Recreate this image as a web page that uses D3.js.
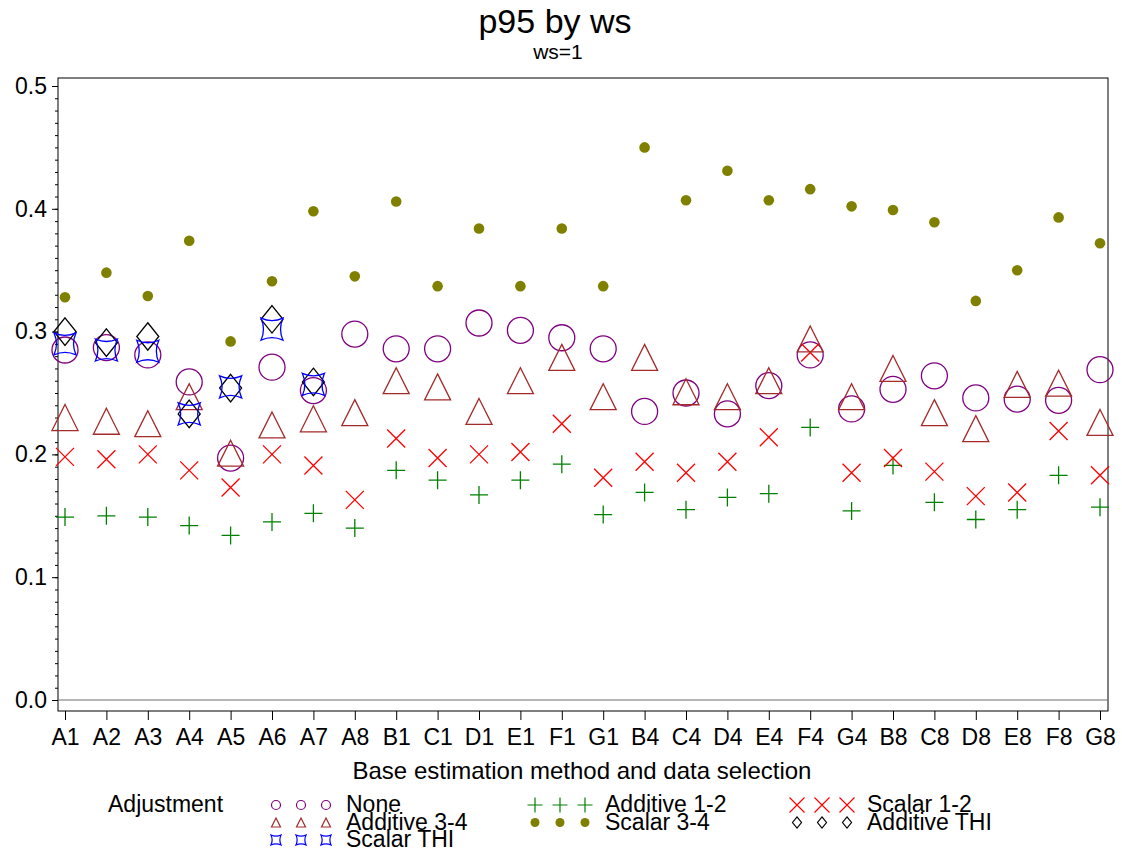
<!DOCTYPE html>
<html>
<head>
<meta charset="utf-8">
<script src="https://cdn.jsdelivr.net/npm/d3@7"></script>
<style>
	body { margin: 0; background: #fff; }
	text { font-family: "Liberation Sans", Arial, sans-serif; fill: #000; }
</style>
</head>
<body>
<svg id="chart" width="1122" height="854"></svg>
<script>
/*=================
=== The data
=================*/
var categories = ['A1', 'A2', 'A3', 'A4', 'A5', 'A6', 'A7', 'A8', 'B1', 'C1', 'D1', 'E1', 'F1', 'G1',
	'B4', 'C4', 'D4', 'E4', 'F4', 'G4', 'B8', 'C8', 'D8', 'E8', 'F8', 'G8'];
var thiCategories = ['A1', 'A2', 'A3', 'A4', 'A5', 'A6', 'A7'];

var noneVals = [0.285, 0.287, 0.281, 0.259, 0.197, 0.271, 0.252, 0.298, 0.286, 0.286, 0.307, 0.301, 0.295,
	0.286, 0.235, 0.250, 0.233, 0.256, 0.281, 0.237, 0.253, 0.264, 0.246, 0.245, 0.244, 0.269];
var add12Vals = [0.149, 0.150, 0.149, 0.142, 0.134, 0.145, 0.152, 0.140, 0.187, 0.179, 0.167, 0.179, 0.192,
	0.151, 0.169, 0.155, 0.165, 0.168, 0.222, 0.154, 0.191, 0.161, 0.147, 0.155, 0.183, 0.157];
var scal12Vals = [0.198, 0.196, 0.200, 0.187, 0.173, 0.200, 0.191, 0.163, 0.213, 0.197, 0.200, 0.202, 0.225,
	0.181, 0.194, 0.185, 0.194, 0.214, 0.283, 0.185, 0.197, 0.186, 0.166, 0.169, 0.219, 0.183];
var add34Vals = [0.230, 0.227, 0.225, 0.247, 0.201, 0.224, 0.229, 0.234, 0.260, 0.255, 0.235, 0.260, 0.279,
	0.247, 0.279, 0.251, 0.247, 0.260, 0.294, 0.247, 0.270, 0.234, 0.221, 0.257, 0.258, 0.226];
var scal34Vals = [0.328, 0.348, 0.329, 0.374, 0.292, 0.341, 0.398, 0.345, 0.406, 0.337, 0.384, 0.337, 0.384,
	0.337, 0.450, 0.407, 0.431, 0.407, 0.416, 0.402, 0.399, 0.389, 0.325, 0.350, 0.393, 0.372];
var addThiVals = [0.300, 0.291, 0.296, 0.233, 0.254, 0.310, 0.259];
var scalThiVals = [0.290, 0.285, 0.284, 0.233, 0.255, 0.302, 0.257];

var yTicks = [0, 0.1, 0.2, 0.3, 0.4, 0.5];

/*=================
=== Marker shapes
=================*/
function circleShape(r) { return 'M' + r + ',0A' + r + ',' + r + ' 0 1 1 ' + (-r) + ',0A' + r + ',' + r + ' 0 1 1 ' + r + ',0Z'; }
function triangleShape(s) { return 'M0,' + (-s) + 'L' + s + ',' + s + 'L' + (-s) + ',' + s + 'Z'; }
function plusShape(s) { return 'M' + (-s) + ',0H' + s + 'M0,' + (-s) + 'V' + s; }
function crossShape(s) { return 'M' + (-s) + ',' + (-s) + 'L' + s + ',' + s + 'M' + s + ',' + (-s) + 'L' + (-s) + ',' + s; }
function diamondShape(s) { var h = s * 1.25; return 'M0,' + (-h) + 'L' + s + ',0L0,' + h + 'L' + (-s) + ',0Z'; }
function starSquareShape(s) {
	var c = s * 0.55; // how far the sides bow in
	return 'M' + (-s) + ',' + (-s) + 'Q0,' + (-c) + ' ' + s + ',' + (-s) +
		'Q' + c + ',0 ' + s + ',' + s +
		'Q0,' + c + ' ' + (-s) + ',' + s +
		'Q' + (-c) + ',0 ' + (-s) + ',' + (-s) + 'Z';
}

// legend order (row by row), also the draw order
var series = [
	{ name: 'None', cats: categories, vals: noneVals, color: '#800080', fill: 'none', shape: circleShape, size: 13, lsize: 4.5 },
	{ name: 'Additive 1-2', cats: categories, vals: add12Vals, color: '#008000', fill: 'none', shape: plusShape, size: 9, lsize: 7.5 },
	{ name: 'Scalar 1-2', cats: categories, vals: scal12Vals, color: '#ff0000', fill: 'none', shape: crossShape, size: 9, lsize: 7.5 },
	{ name: 'Additive 3-4', cats: categories, vals: add34Vals, color: '#a52a2a', fill: 'none', shape: triangleShape, size: 13, lsize: 4.5 },
	{ name: 'Scalar 3-4', cats: categories, vals: scal34Vals, color: '#808000', fill: '#808000', shape: circleShape, size: 5.3, lsize: 4.5 },
	{ name: 'Additive THI', cats: thiCategories, vals: addThiVals, color: '#000000', fill: 'none', shape: diamondShape, size: 11, lsize: 4.5 },
	{ name: 'Scalar THI', cats: thiCategories, vals: scalThiVals, color: '#0000ff', fill: 'none', shape: starSquareShape, size: 11, lsize: 5 }
];

/*=================
=== The vars
=================*/
var frameLeft = 58, frameRight = 1108, frameTop = 78, frameBottom = 711;

var svg = d3.select('#chart');

var x = d3.scalePoint().domain(categories).range([65, 1100]);
var y = d3.scaleLinear().domain([0, 0.5]).range([700, 86]);

// titles
svg.append('text')
	.attr('x', 555).attr('y', 33)
	.attr('text-anchor', 'middle')
	.style('font-size', '34px')
	.text('p95 by ws');
svg.append('text')
	.attr('x', 558).attr('y', 59)
	.attr('text-anchor', 'middle')
	.style('font-size', '21px')
	.text('ws=1');

// frame
svg.append('rect')
	.attr('x', frameLeft).attr('y', frameTop)
	.attr('width', frameRight - frameLeft)
	.attr('height', frameBottom - frameTop)
	.attr('fill', 'none')
	.attr('stroke', '#000')
	.attr('stroke-width', 1);

// reference line at zero
svg.append('line')
	.attr('x1', frameLeft).attr('x2', frameRight)
	.attr('y1', y(0)).attr('y2', y(0))
	.attr('stroke', '#6e6e6e')
	.attr('stroke-width', 1.2);

// y axis, minor then major
var yMinor = svg.append('g')
	.attr('transform', 'translate(' + frameLeft + ',0)')
	.call(d3.axisLeft(y).tickValues(d3.range(0, 51).map(function (i) { return i / 100; })).tickSize(3).tickFormat(''));
yMinor.select('.domain').remove();

var yAxis = svg.append('g')
	.attr('transform', 'translate(' + frameLeft + ',0)')
	.call(d3.axisLeft(y).tickValues(yTicks).tickSize(6).tickPadding(5).tickFormat(d3.format('.1f')));
yAxis.select('.domain').remove();
yAxis.selectAll('text').style('font-size', '23px').attr('font-family', null);

// x axis
var xAxis = svg.append('g')
	.attr('transform', 'translate(0,' + frameBottom + ')')
	.call(d3.axisBottom(x).tickSize(9).tickPadding(9));
xAxis.select('.domain').remove();
xAxis.selectAll('text').style('font-size', '23px').attr('font-family', null);

svg.append('text')
	.attr('x', 582).attr('y', 779)
	.attr('text-anchor', 'middle')
	.style('font-size', '24px')
	.text('Base estimation method and data selection');

// markers
series.forEach(function (s) {
	var pts = s.cats.map(function (c, i) { return { cat: c, val: s.vals[i] }; });
	svg.append('g')
		.attr('class', 'series')
		.selectAll('path')
		.data(pts)
		.enter()
		.append('path')
		.attr('transform', function (d) { return 'translate(' + x(d.cat) + ',' + y(d.val) + ')'; })
		.attr('d', s.shape(s.size))
		.attr('fill', s.fill)
		.attr('stroke', s.color)
		.attr('stroke-width', s.fill === 'none' ? 1.3 : 0);
});

/*=================
=== Legend
=================*/
svg.append('text')
	.attr('x', 108).attr('y', 812)
	.style('font-size', '23px')
	.text('Adjustment');

var colX = [276, 535, 797];
var rowY = [805, 822.5, 840];

var legend = svg.append('g').attr('class', 'legend');
series.forEach(function (s, i) {
	var cx = colX[i % 3], cy = rowY[Math.floor(i / 3)];
	var item = legend.append('g');
	[0, 25, 50].forEach(function (dx) {
		item.append('path')
			.attr('transform', 'translate(' + (cx + dx) + ',' + cy + ')')
			.attr('d', s.shape(s.lsize))
			.attr('fill', s.fill)
			.attr('stroke', s.color)
			.attr('stroke-width', s.fill === 'none' ? 1.2 : 0);
	});
	// rows sit tighter than the text height, as in the original legend
	item.append('text')
		.attr('x', cx + 70).attr('y', cy + 7)
		.style('font-size', '23px')
		.text(s.name);
});
</script>
</body>
</html>
